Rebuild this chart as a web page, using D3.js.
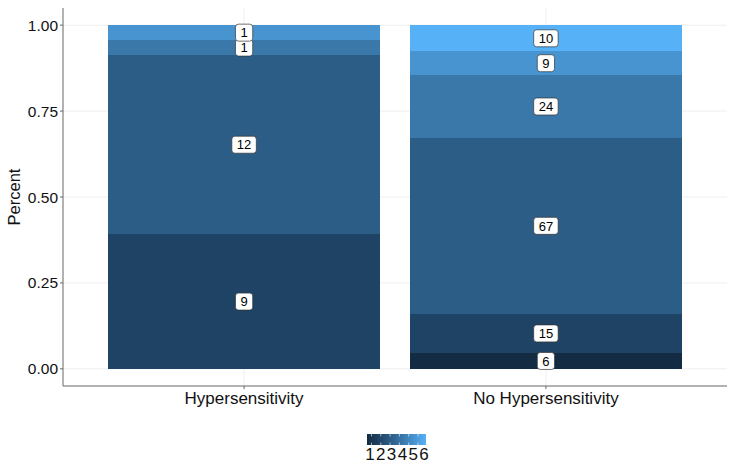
<!DOCTYPE html>
<html><head><meta charset="utf-8">
<script src="https://cdn.jsdelivr.net/npm/d3@7"></script>
<style>body{margin:0;background:#fff;} svg{display:block;font-family:"Liberation Sans",Arial,sans-serif;}</style>
</head><body>
<svg id="chart" width="733" height="469"></svg>
<script>
const categories = ["Hypersensitivity", "No Hypersensitivity"];
const levels = [1, 2, 3, 4, 5, 6];
const hyperCounts = [0, 9, 12, 1, 1, 0];
const noHyperCounts = [6, 15, 67, 24, 9, 10];
const yTicks = [0, 0.25, 0.5, 0.75, 1];
const yTickLabels = ["0.00", "0.25", "0.50", "0.75", "1.00"];

const countsByCat = [hyperCounts, noHyperCounts];
const svg = d3.select("#chart");
const m = {left: 63, right: 6, top: 8, bottom: 83};
const W = 733, H = 469;
// ggplot discrete expansion 0.6 units, bar width 0.9
const unit = (W - m.right - m.left) / (categories.length - 1 + 1.2);
const x = d3.scalePoint().domain(categories).range([m.left + 0.6 * unit, W - m.right - 0.6 * unit]);
const cx = c => x(c);
const y = d3.scaleLinear().domain([-0.05, 1.05]).range([H - m.bottom, m.top]);
const color = d3.scaleLinear().domain([1, 6]).range(["#132B43", "#56B1F7"]).interpolate(d3.interpolateLab);

// grid
const g = svg.append("g");
g.selectAll(".gy").data(yTicks).join("line")
  .attr("x1", m.left).attr("x2", W - m.right)
  .attr("y1", d => y(d)).attr("y2", d => y(d))
  .attr("stroke", "#ebebeb").attr("stroke-width", 0.8);
g.selectAll(".gx").data(categories).join("line")
  .attr("x1", d => cx(d)).attr("x2", d => cx(d))
  .attr("y1", m.top).attr("y2", H - m.bottom)
  .attr("stroke", "#ebebeb").attr("stroke-width", 0.8);

// stacked data (level 1 at bottom)
const segs = [];
countsByCat.forEach((counts, ci) => {
  const total = d3.sum(counts);
  let cum = 0;
  counts.forEach((c, li) => {
    if (c > 0) {
      segs.push({cat: categories[ci], level: levels[li], count: c, y0: cum / total, y1: (cum + c) / total});
      cum += c;
    }
  });
});
const bw = unit * 0.9;
svg.append("g").attr("shape-rendering", "crispEdges").selectAll("rect").data(segs).join("rect")
  .attr("x", d => cx(d.cat) - bw / 2).attr("width", bw)
  .attr("y", d => y(d.y1)).attr("height", d => y(d.y0) - y(d.y1))
  .attr("fill", d => color(d.level));

// labels
const lg = svg.append("g").selectAll("g").data(segs).join("g")
  .attr("transform", d => `translate(${cx(d.cat)},${y((d.y0 + d.y1) / 2)})`);
lg.each(function(d) {
  const s = d3.select(this);
  const t = s.append("text").attr("text-anchor", "middle").attr("dy", "0.36em")
    .attr("font-size", 13).attr("fill", "#000").text(d.count);
  const w = t.node().getComputedTextLength();
  s.insert("rect", "text").attr("x", -w / 2 - 5).attr("y", -8.5).attr("width", w + 10).attr("height", 17)
    .attr("rx", 3).attr("fill", "#fff").attr("stroke", "#333").attr("stroke-width", 0.7);
});

// axes lines
svg.append("line").attr("x1", m.left).attr("x2", m.left).attr("y1", m.top).attr("y2", H - m.bottom)
  .attr("stroke", "#666").attr("stroke-width", 1);
svg.append("line").attr("x1", m.left).attr("x2", W - m.right).attr("y1", H - m.bottom).attr("y2", H - m.bottom)
  .attr("stroke", "#666").attr("stroke-width", 1);
// y ticks
const yt = svg.append("g").selectAll("g").data(yTicks).join("g");
yt.append("line").attr("x1", m.left - 3).attr("x2", m.left).attr("y1", d => y(d)).attr("y2", d => y(d)).attr("stroke", "#666");
yt.append("text").attr("x", m.left - 5).attr("y", d => y(d)).attr("dy", "0.36em").attr("text-anchor", "end")
  .attr("font-size", 15.5).attr("fill", "#111").text((d, i) => yTickLabels[i]);
// x ticks
const xt = svg.append("g").selectAll("g").data(categories).join("g");
xt.append("line").attr("x1", d => cx(d)).attr("x2", d => cx(d)).attr("y1", H - m.bottom).attr("y2", H - m.bottom + 3).attr("stroke", "#666");
xt.append("text").attr("x", d => cx(d)).attr("y", H - m.bottom + 18).attr("text-anchor", "middle")
  .attr("font-size", 17).attr("fill", "#111").text(d => d);
// y title
svg.append("text").attr("transform", `translate(20,${(m.top + H - m.bottom) / 2}) rotate(-90)`)
  .attr("text-anchor", "middle").attr("font-size", 16.5).attr("fill", "#111").text("Percent");

// legend colorbar
const lx0 = 367, lx1 = 426, ly = 434, lh = 11;
const defs = svg.append("defs");
const grad = defs.append("linearGradient").attr("id", "cb");
d3.range(0, 1.0001, 0.05).forEach(t => grad.append("stop").attr("offset", t).attr("stop-color", color(1 + 5 * t)));
svg.append("rect").attr("x", lx0).attr("y", ly).attr("width", lx1 - lx0).attr("height", lh).attr("fill", "url(#cb)");
const tickX = d3.scaleLinear().domain([1, 6]).range([371.5, 418]);
const labX = d3.scaleLinear().domain([1, 6]).range([370, 424]);
const lt = svg.append("g").selectAll("g").data(levels).join("g");
lt.append("line").attr("x1", d => tickX(d)).attr("x2", d => tickX(d)).attr("y1", ly).attr("y2", ly + 2.5).attr("stroke", "#fff").attr("stroke-width", 0.6);
lt.append("line").attr("x1", d => tickX(d)).attr("x2", d => tickX(d)).attr("y1", ly + lh - 2.5).attr("y2", ly + lh).attr("stroke", "#fff").attr("stroke-width", 0.6);
lt.append("text").attr("x", d => labX(d)).attr("y", 460).attr("text-anchor", "middle")
  .attr("font-size", 17).attr("fill", "#111").text(d => d);
</script>
</body></html>
